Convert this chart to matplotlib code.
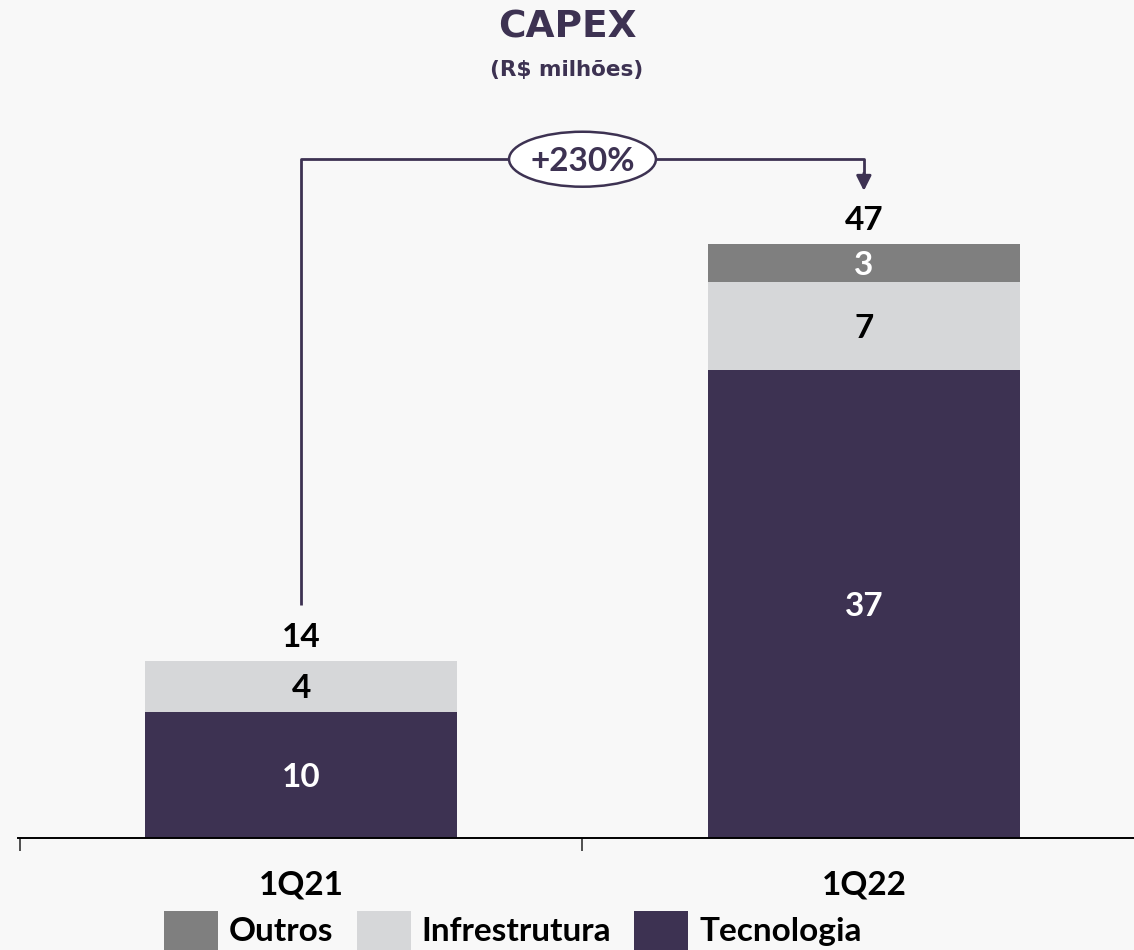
import matplotlib
matplotlib.use("Agg")
import matplotlib.pyplot as plt
from matplotlib.patches import Ellipse

# data
categories = ["1Q21", "1Q22"]
tecnologia = [10, 37]
infra = [4, 7]
outros = [0, 3]
totals = [14, 47]
growth_label = "+230%"

PURPLE = "#3d3252"
LIGHT = "#d6d7d9"
GREY = "#7f7f7f"
BG = "#f8f8f8"
LABEL_FONT = "Lato"
FS = 24

plt.rcParams["font.family"] = [LABEL_FONT, "DejaVu Sans"]

fig = plt.figure(figsize=(11.34, 9.5), dpi=100, facecolor=BG)
ax = fig.add_axes([18 / 1134, 112 / 950, 1116 / 1134, 838 / 950])
ax.set_facecolor(BG)

x = list(range(len(categories)))
w = 0.555
b1 = ax.bar(x, tecnologia, w, color=PURPLE, label="Tecnologia")
b2 = ax.bar(x, infra, w, bottom=tecnologia, color=LIGHT, label="Infrestrutura")
bottom3 = [t + i for t, i in zip(tecnologia, infra)]
b3 = ax.bar(x, outros, w, bottom=bottom3, color=GREY, label="Outros")

lab_kw = dict(ha="center", va="center_baseline", fontsize=FS, fontweight="bold")
for i in x:
    ax.text(i, tecnologia[i] / 2, str(tecnologia[i]), color="white", **lab_kw)
    ax.text(i, tecnologia[i] + infra[i] / 2, str(infra[i]), color="black", **lab_kw)
    if outros[i]:
        ax.text(i, bottom3[i] + outros[i] / 2, str(outros[i]), color="white", **lab_kw)
    ax.annotate(str(totals[i]), (i, totals[i]), xytext=(0, 10),
                textcoords="offset points", ha="center", va="baseline",
                fontsize=FS, fontweight="bold", color="black")
    # category label under the axis
    ax.annotate(categories[i], (i, 0), xytext=(0, -41),
                textcoords="offset points", ha="center", va="baseline",
                fontsize=FS, fontweight="bold", color="black", annotation_clip=False)

# growth connector
y_top = max(totals) + 6.7
ax.plot([0, 0, 1, 1], [totals[0] + 4.4, y_top, y_top, totals[1] + 5.4],
        color=PURPLE, lw=2, solid_capstyle="butt", zorder=3)
ax.annotate("", xy=(1, totals[1] + 4.2), xytext=(1, totals[1] + 5.6),
            arrowprops=dict(arrowstyle="-|>,head_length=0.9,head_width=0.45",
                            color=PURPLE, lw=2, shrinkA=0, shrinkB=0), zorder=4)
ax.add_patch(Ellipse((0.5, y_top), 0.261, 4.35, facecolor="white",
                     edgecolor=PURPLE, lw=1.8, zorder=5))
ax.text(0.5, y_top, growth_label, ha="center", va="center_baseline",
        fontsize=FS, fontweight="bold", color=PURPLE, zorder=6)

ax.set_xlim(-0.503, 1.48)
ax.set_ylim(0, 838 / 12.64)
for s in ["top", "right", "left"]:
    ax.spines[s].set_visible(False)
ax.spines["bottom"].set_color("black")
ax.spines["bottom"].set_linewidth(1.4)
ax.set_yticks([])
ax.set_xticks([-0.5, 0.5])
ax.set_xticklabels([])
ax.tick_params(axis="x", which="major", direction="out", length=9, width=1.2, color="#333333")

fig.text(0.5, 1 - 28 / 950, "CAPEX", ha="center", va="center", fontsize=27,
         fontweight="bold", color=PURPLE, family="DejaVu Sans")
fig.text(0.5, 1 - 70 / 950, "(R$ milhões)", ha="center", va="center", fontsize=15.5,
         fontweight="bold", color=PURPLE, family="DejaVu Sans")

fig.legend(handles=[b3, b2, b1], labels=["Outros", "Infrestrutura", "Tecnologia"],
           loc="upper left", bbox_to_anchor=(164 / 1134, 1 - 911 / 950), ncol=3,
           frameon=False, prop={"weight": "bold", "size": FS},
           handlelength=1.62, handleheight=1.41, handletextpad=0.33,
           columnspacing=0.69, borderpad=0, borderaxespad=0)

fig.savefig("out.png", dpi=100, facecolor=BG)
